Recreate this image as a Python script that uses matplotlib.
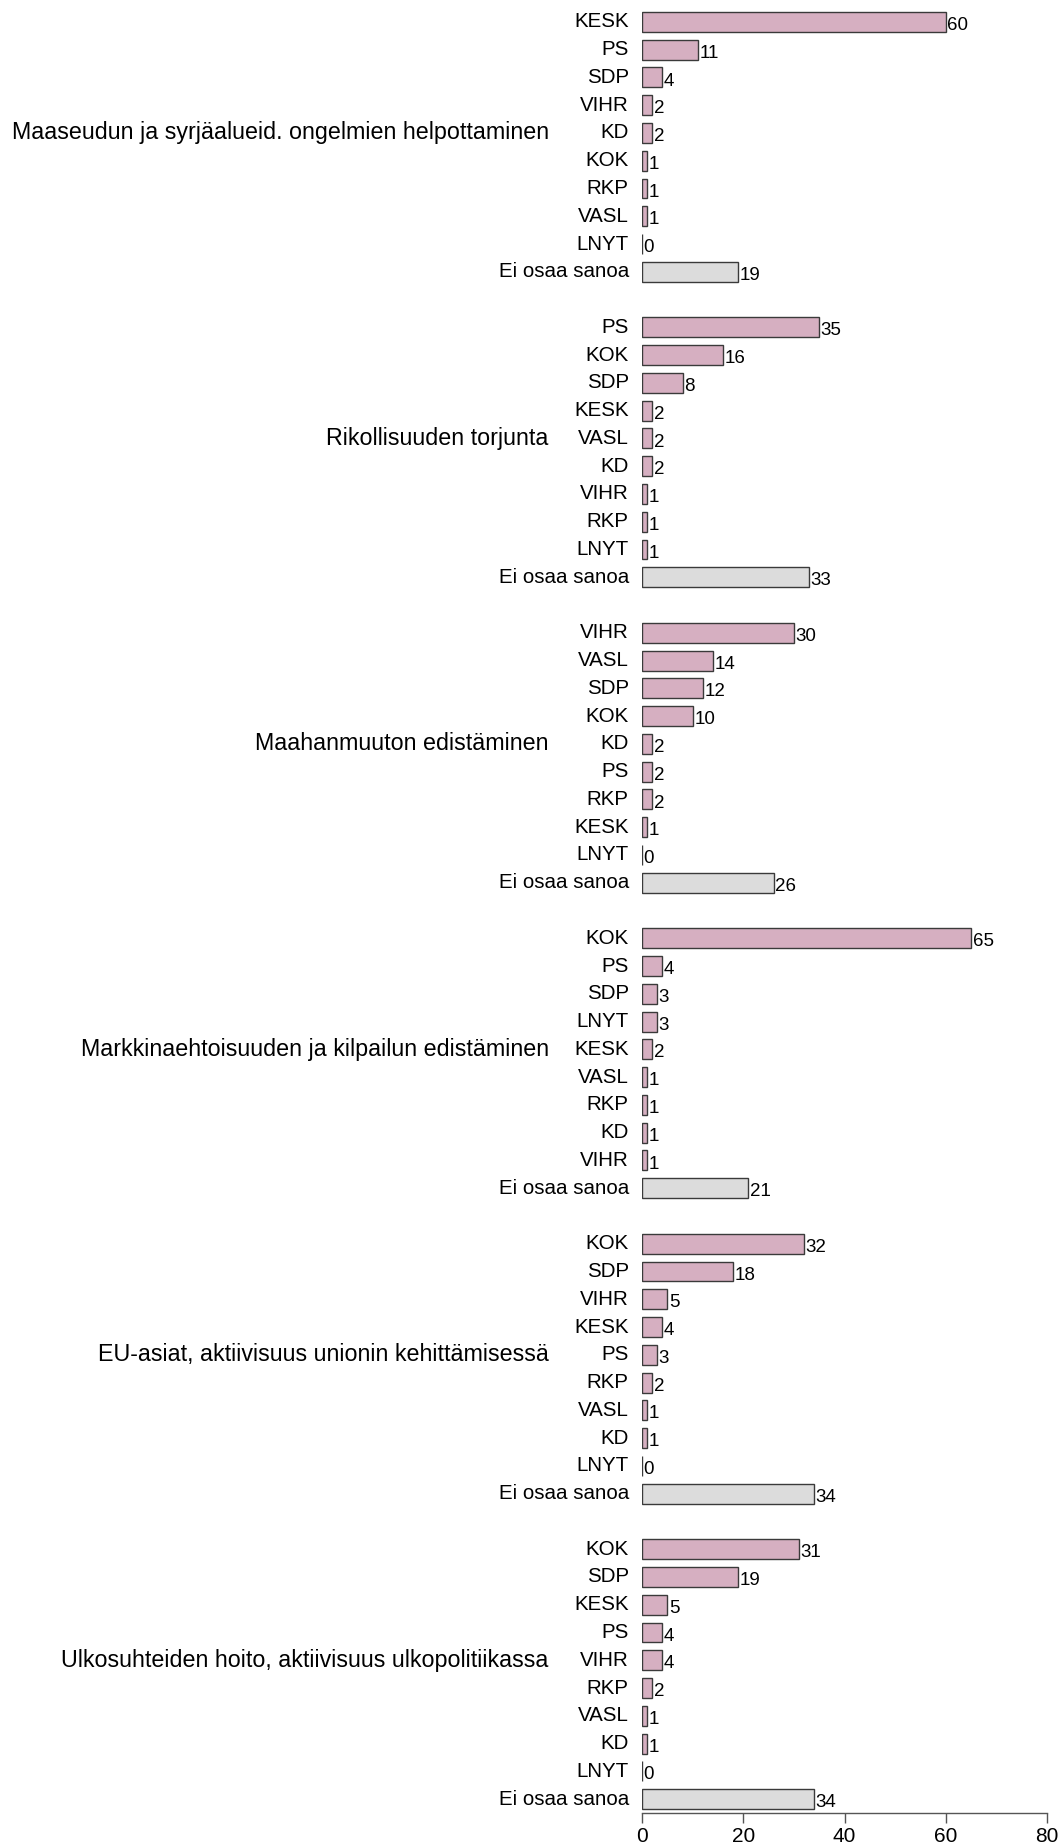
import matplotlib.pyplot as plt

plt.rcParams['font.family'] = ['Liberation Sans', 'DejaVu Sans']

topics = [
    "Maaseudun ja syrjäalueid. ongelmien helpottaminen",
    "Rikollisuuden torjunta",
    "Maahanmuuton edistäminen",
    "Markkinaehtoisuuden ja kilpailun edistäminen",
    "EU-asiat, aktiivisuus unionin kehittämisessä",
    "Ulkosuhteiden hoito, aktiivisuus ulkopolitiikassa",
]

# parties per topic, in plotted order (last one is always "Ei osaa sanoa")
parties_1 = ["KESK", "PS", "SDP", "VIHR", "KD", "KOK", "RKP", "VASL", "LNYT", "Ei osaa sanoa"]
values_1 = [60, 11, 4, 2, 2, 1, 1, 1, 0, 19]

parties_2 = ["PS", "KOK", "SDP", "KESK", "VASL", "KD", "VIHR", "RKP", "LNYT", "Ei osaa sanoa"]
values_2 = [35, 16, 8, 2, 2, 2, 1, 1, 1, 33]

parties_3 = ["VIHR", "VASL", "SDP", "KOK", "KD", "PS", "RKP", "KESK", "LNYT", "Ei osaa sanoa"]
values_3 = [30, 14, 12, 10, 2, 2, 2, 1, 0, 26]

parties_4 = ["KOK", "PS", "SDP", "LNYT", "KESK", "VASL", "RKP", "KD", "VIHR", "Ei osaa sanoa"]
values_4 = [65, 4, 3, 3, 2, 1, 1, 1, 1, 21]

parties_5 = ["KOK", "SDP", "VIHR", "KESK", "PS", "RKP", "VASL", "KD", "LNYT", "Ei osaa sanoa"]
values_5 = [32, 18, 5, 4, 3, 2, 1, 1, 0, 34]

parties_6 = ["KOK", "SDP", "KESK", "PS", "VIHR", "RKP", "VASL", "KD", "LNYT", "Ei osaa sanoa"]
values_6 = [31, 19, 5, 4, 4, 2, 1, 1, 0, 34]

all_parties = [parties_1, parties_2, parties_3, parties_4, parties_5, parties_6]
all_values = [values_1, values_2, values_3, values_4, values_5, values_6]

pink = "#d6afc1"
grey = "#dcdcdc"

fig = plt.figure(figsize=(10.61, 18.45), dpi=100)
W, H = 1061, 1845
ax = fig.add_axes([642 / W, (H - 1813) / H, (1047 - 642) / W, (1813 - 8) / H])

row = 0
for topic, parties, vals in zip(topics, all_parties, all_values):
    ys = [row + i for i in range(len(parties))]
    colors = [grey if p == "Ei osaa sanoa" else pink for p in parties]
    ax.barh(ys, vals, height=0.72, color=colors, edgecolor="#3a3a3a", linewidth=1.0)
    for y, p, v in zip(ys, parties, vals):
        ax.text(-2.6, y, p, ha="right", va="center", fontsize=14.8, clip_on=False)
        ax.text(v + 0.3, y + 0.13, str(v), ha="left", va="center", fontsize=13.5, clip_on=False)
    ax.text(-18.4, row + 4, topic, ha="right", va="center", fontsize=16.75, clip_on=False)
    row += len(parties) + 1

ax.set_xlim(0, 80)
ax.set_ylim(row - 1.5, -0.5)
ax.set_yticks([])
ax.set_xticks([0, 20, 40, 60, 80])
ax.tick_params(axis="x", length=7, width=1, colors="#555555", labelcolor="black",
               labelsize=15, pad=3)
for s in ["top", "right", "left"]:
    ax.spines[s].set_visible(False)
ax.spines["bottom"].set_color("#555555")
ax.spines["bottom"].set_linewidth(1)

fig.savefig("out.png", dpi=100)
